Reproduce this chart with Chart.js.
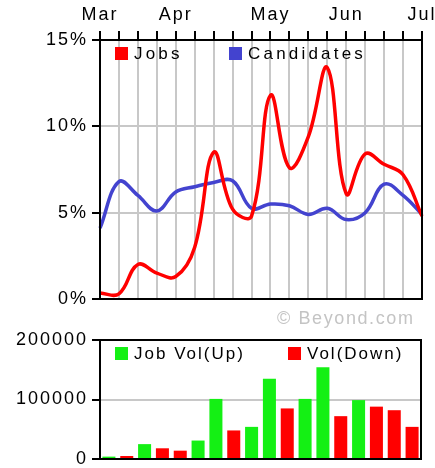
<!DOCTYPE html>
<html>
<head>
<meta charset="utf-8">
<script src="https://cdn.jsdelivr.net/npm/chart.js@4/dist/chart.umd.min.js"></script>
<style>
  html, body { margin: 0; padding: 0; background: #fff; }
  #wrap { position: relative; width: 435px; height: 468px; overflow: hidden; }
  canvas { position: absolute; left: 0; }
  #top { top: 0; }
  #bottom { top: 330px; }
  #mark {
    position: absolute; left: 277px; top: 308px;
    font: 18px "Liberation Sans", Arial, sans-serif;
    letter-spacing: 1.6px; color: #c4c4c4; white-space: nowrap;
  }
</style>
</head>
<body>
<div id="wrap">
  <canvas id="top" width="435" height="312"></canvas>
  <div id="mark">© Beyond.com</div>
  <canvas id="bottom" width="435" height="138"></canvas>
</div>
<script>
// chart data
const weekLabels = ["Mar", "", "", "", "Apr", "", "", "", "", "May", "", "", "", "Jun", "", "", "", "Jul"];
const jobsPct = [0.35, 0.3, 2.0, 1.5, 1.3, 3.0, 8.5, 5.2, 4.8, 11.8, 7.6, 9.4, 13.4, 6.1, 8.4, 7.8, 7.2, 4.8];
const candidatesPct = [4.1, 6.8, 6.0, 5.1, 6.2, 6.5, 6.75, 6.85, 5.25, 5.5, 5.4, 4.9, 5.25, 4.6, 5.0, 6.65, 6.0, 4.9];
const pctTicks = [0, 5, 10, 15];
const volUp = [4000, null, 25000, null, null, 31000, 101000, null, 54000, 135000, null, 101000, 154000, null, 99000, null, null, null];
const volDown = [null, 5000, null, 18000, 14000, null, null, 48000, null, null, 85000, null, null, 72000, null, 88000, 82000, 54000];
const volTicks = [0, 100000, 200000];

const FONT = "'Liberation Sans', Arial, sans-serif";
const GRID = "#c8c8c8";

// wider letters for the axis labels, like the original image
const spacing = {
  id: "spacing",
  beforeDraw(chart) { chart.ctx.letterSpacing = "2px"; },
  afterDraw(chart) { chart.ctx.letterSpacing = "0px"; }
};

// black frame round the plot area
const framePlugin = {
  id: "frame",
  afterDraw(chart) {
    const { ctx, chartArea: a } = chart;
    ctx.save();
    ctx.strokeStyle = "#000";
    ctx.lineWidth = 2;
    ctx.strokeRect(a.left, a.top, a.right - a.left, a.bottom - a.top);
    ctx.restore();
  }
};

// legend drawn inside the plot, one square + label per dataset
const innerLegend = {
  id: "innerLegend",
  afterDraw(chart, args, opts) {
    const { ctx, chartArea: a } = chart;
    ctx.save();
    ctx.font = "17px " + FONT;
    ctx.letterSpacing = opts.spacing + "px";
    ctx.textBaseline = "middle";
    chart.data.datasets.forEach((ds, i) => {
      const x = a.left + opts.offsets[i];
      const y = a.top + opts.top;
      ctx.fillStyle = ds.borderColor || ds.backgroundColor;
      ctx.fillRect(x, y, 13, 13);
      ctx.fillStyle = "#000";
      ctx.fillText(ds.label, x + 19, y + 7);
    });
    ctx.restore();
  }
};

// let the layout padding alone decide the plot edges
const noOverflow = (s) => {
  s.paddingLeft = 0; s.paddingRight = 0;
  s.paddingTop = 0; s.paddingBottom = 0;
};

const axisFont = { family: FONT, size: 18 };

new Chart(document.getElementById("top"), {
  type: "line",
  data: {
    labels: weekLabels,
    datasets: [
      { label: "Jobs", data: jobsPct, borderColor: "#ff0000", borderWidth: 3.5, pointRadius: 0, tension: 0.4 },
      { label: "Candidates", data: candidatesPct, borderColor: "#4343cf", borderWidth: 3.5, pointRadius: 0, tension: 0.4 }
    ]
  },
  options: {
    responsive: false,
    animation: false,
    layout: { padding: { left: 0, right: 13, top: 0, bottom: 13 } },
    plugins: {
      legend: { display: false },
      tooltip: { enabled: false },
      innerLegend: { offsets: [15, 129], top: 7, spacing: 3.2 }
    },
    scales: {
      x: {
        position: "top",
        offset: false,
        grid: { color: GRID, lineWidth: 2, tickColor: "#000", tickLength: 9 },
        border: { color: "#000", width: 2 },
        ticks: { autoSkip: false, maxRotation: 0, color: "#000", font: axisFont, padding: 5 },
        afterFit: (s) => { s.height = 40; noOverflow(s); }
      },
      y: {
        min: 0, max: 15,
        afterBuildTicks: (s) => { s.ticks = pctTicks.map((v) => ({ value: v })); },
        grid: { color: GRID, lineWidth: 2, tickColor: "#000", tickLength: 8 },
        border: { color: "#000", width: 2 },
        ticks: { color: "#000", font: axisFont, padding: 4, callback: (v) => v + "%" },
        afterFit: (s) => { s.width = 100; noOverflow(s); }
      }
    }
  },
  plugins: [spacing, framePlugin, innerLegend]
});

new Chart(document.getElementById("bottom"), {
  type: "bar",
  data: {
    labels: weekLabels,
    datasets: [
      { label: "Job Vol(Up)", data: volUp, backgroundColor: "#14f014", grouped: false, barPercentage: 0.73, categoryPercentage: 1 },
      { label: "Vol(Down)", data: volDown, backgroundColor: "#ff0000", grouped: false, barPercentage: 0.73, categoryPercentage: 1 }
    ]
  },
  options: {
    responsive: false,
    animation: false,
    layout: { padding: { left: 0, right: 14, top: 10, bottom: 9 } },
    plugins: {
      legend: { display: false },
      tooltip: { enabled: false },
      innerLegend: { offsets: [15, 188], top: 7, spacing: 2 }
    },
    scales: {
      x: { display: false, offset: true },
      y: {
        min: 0, max: 200000,
        afterBuildTicks: (s) => { s.ticks = volTicks.map((v) => ({ value: v })); },
        grid: { color: GRID, lineWidth: 2, tickColor: "#000", tickLength: 8 },
        border: { color: "#000", width: 2 },
        ticks: { color: "#000", font: axisFont, padding: 4, callback: (v) => String(v) },
        afterFit: (s) => { s.width = 100; noOverflow(s); }
      }
    }
  },
  plugins: [spacing, framePlugin, innerLegend]
});
</script>
</body>
</html>
